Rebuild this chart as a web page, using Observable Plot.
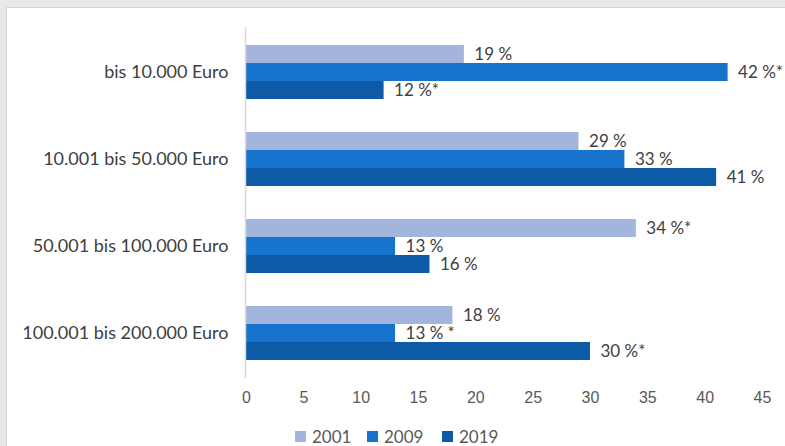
<!DOCTYPE html>
<html><head><meta charset="utf-8">
<script src="https://cdn.jsdelivr.net/npm/d3@7"></script>
<script src="https://cdn.jsdelivr.net/npm/@observablehq/plot@0.6"></script>
<style>
html,body{margin:0;padding:0;}
body{background:#e8e8e8;width:785px;height:446px;overflow:hidden;position:relative;}
#panel{position:absolute;left:6px;top:7px;width:800px;height:460px;background:#fff;border:1px solid #d4d4d4;box-sizing:border-box;}
#chart{position:absolute;left:0;top:0;}
#legend{position:absolute;top:428px;left:0;width:785px;height:17px;font-family:Lato,"Open Sans",sans-serif;font-size:17px;line-height:17px;color:#595959;}
#legend .item{position:absolute;top:0;display:flex;align-items:center;height:17px;}
#legend .sw{width:11px;height:11px;margin-right:6px;}
</style>
</head><body>
<div id="panel"></div>
<div id="chart"></div>
<div id="legend"></div>
<script>
const categories = ["bis 10.000 Euro","10.001 bis 50.000 Euro","50.001 bis 100.000 Euro","100.001 bis 200.000 Euro"];
const years = ["2001","2009","2019"];
const values2001 = [19,29,34,18];
const values2009 = [42,33,13,13];
const values2019 = [12,41,16,30];
const labels2001 = ["19 %","29 %","34 %*","18 %"];
const labels2009 = ["42 %*","33 %","13 %","13 % *"];
const labels2019 = ["12 %*","41 %","16 %","30 %*"];
const colors = ["#a3b5dd","#1773cc","#0d5aa6"];
const xTicks = [0,5,10,15,20,25,30,35,40,45];

const seriesValues = [values2001, values2009, values2019];
const seriesLabels = [labels2001, labels2009, labels2019];
const data = [];
categories.forEach((c, i) => {
  years.forEach((y, j) => {
    data.push({category: c, year: y, value: seriesValues[j][i], label: seriesLabels[j][i]});
  });
});

const plot = Plot.plot({
  width: 785,
  height: 410,
  marginLeft: 246,
  marginRight: 23,
  marginTop: 27,
  marginBottom: 33,
  style: {background: "transparent", fontFamily: "Lato, 'Open Sans', sans-serif", color: "#404040"},
  x: {domain: [0, 45], ticks: xTicks, tickSize: 0, tickPadding: 31, label: null},
  y: {domain: years, axis: null, padding: 0},
  fy: {domain: categories, axis: "left", paddingInner: 0.383, paddingOuter: 0.19, label: null, tickSize: 0, tickPadding: 18},
  color: {domain: years, range: colors},
  marks: [
    Plot.barX(data, {x: "value", y: "year", fy: "category", fill: "year"}),
    Plot.text(data, {x: "value", y: "year", fy: "category", text: "label", dx: 10, textAnchor: "start", fill: "#404040", fontSize: 17})
  ]
});
document.getElementById("chart").appendChild(plot);

const svg = d3.select(plot);
svg.selectAll('[aria-label^="x-axis"] text')
  .attr("font-family", "'Liberation Sans', Arial, sans-serif")
  .attr("font-size", 16)
  .attr("fill", "#595959");
svg.selectAll('[aria-label^="fy-axis"] text')
  .attr("font-family", "Lato, 'Open Sans', sans-serif")
  .attr("font-size", 18)
  .attr("fill", "#404040");

// vertical axis line at x = 0 spanning the full category range
const xs = plot.scale("x");
const fyr = plot.scale("fy").range;
const x0 = xs.apply(0);
svg.append("line")
  .attr("x1", x0 - 0.5).attr("x2", x0 - 0.5)
  .attr("y1", Math.min(...fyr)).attr("y2", Math.max(...fyr) + 1)
  .attr("stroke", "#d9d9d9").attr("stroke-width", 1.5);

const legendX = [295, 367, 442];
const legend = d3.select("#legend");
years.forEach((y, j) => {
  const item = legend.append("div").attr("class", "item").style("left", legendX[j] + "px");
  item.append("div").attr("class", "sw").style("background", colors[j]);
  item.append("span").text(y);
});
</script>
</body></html>
